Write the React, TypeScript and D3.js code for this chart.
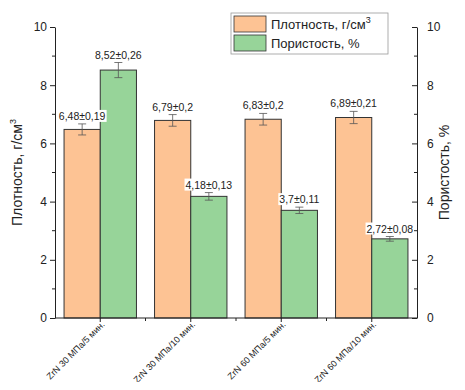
import React, { useEffect, useRef } from "react";
import * as d3 from "d3";

const categories = [
  "ZrN 30 МПа/5 мин.",
  "ZrN 30 МПа/10 мин.",
  "ZrN 60 МПа/5 мин.",
  "ZrN 60 МПа/10 мин.",
];
const density = [6.48, 6.79, 6.83, 6.89];
const densityErr = [0.19, 0.2, 0.2, 0.21];
const densityLabels = ["6,48±0,19", "6,79±0,2", "6,83±0,2", "6,89±0,21"];
const porosity = [8.52, 4.18, 3.7, 2.72];
const porosityErr = [0.26, 0.13, 0.11, 0.08];
const porosityLabels = ["8,52±0,26", "4,18±0,13", "3,7±0,11", "2,72±0,08"];
const yTicks = [0, 2, 4, 6, 8, 10];

const W = 465;
const H = 390;
const FONT = "Liberation Sans, Arial, sans-serif";
const ORANGE = "#fdc394";
const GREEN = "#97d499";

export default function App() {
  const ref = useRef<SVGSVGElement>(null);

  useEffect(() => {
    const svg = d3.select(ref.current);
    svg.selectAll("*").remove();

    const left = 55, right = 417, top = 27, bottom = 318;

    const x = d3.scaleBand().domain(categories).range([left, right]).paddingInner(0.2).paddingOuter(0.1);
    const y = d3.scaleLinear().domain([0, 10]).range([bottom, top]);
    const y2 = d3.scaleLinear().domain([0, 10]).range([bottom, top]);
    const half = x.bandwidth() / 2;

    const series = [
      { vals: density, errs: densityErr, labels: densityLabels, color: ORANGE, off: 0, sc: y },
      { vals: porosity, errs: porosityErr, labels: porosityLabels, color: GREEN, off: half, sc: y2 },
    ];

    const barsG = svg.append("g");
    const labelsG = svg.append("g");

    series.forEach((s) => {
      barsG.append("g").selectAll("rect")
        .data(s.vals)
        .enter()
        .append("rect")
        .attr("x", (_, i) => x(categories[i])! + s.off)
        .attr("y", (d) => s.sc(d))
        .attr("width", half)
        .attr("height", (d) => bottom - s.sc(d))
        .attr("fill", s.color)
        .attr("stroke", "#333")
        .attr("stroke-width", 1);
    });

    series.forEach((s) => {
      s.vals.forEach((v, i) => {
        const cx = x(categories[i])! + s.off + half / 2;
        const y0 = s.sc(v - s.errs[i]);
        const y1 = s.sc(v + s.errs[i]);
        const eg = barsG.append("g").attr("stroke", "#555").attr("stroke-width", 0.8);
        eg.append("line").attr("x1", cx).attr("x2", cx).attr("y1", y0).attr("y2", y1);
        eg.append("line").attr("x1", cx - 4).attr("x2", cx + 4).attr("y1", y0).attr("y2", y0);
        eg.append("line").attr("x1", cx - 4).attr("x2", cx + 4).attr("y1", y1).attr("y2", y1);

        const t = labelsG.append("text")
          .attr("x", cx)
          .attr("y", y1 - 4)
          .attr("text-anchor", "middle")
          .attr("font-family", FONT)
          .attr("font-size", 10.5)
          .attr("fill", "#222")
          .text(s.labels[i]);
        const bb = (t.node() as SVGTextElement).getBBox();
        labelsG.insert("rect", () => t.node())
          .attr("x", bb.x - 1)
          .attr("y", bb.y)
          .attr("width", bb.width + 2)
          .attr("height", bb.height)
          .attr("fill", "white");
      });
    });

    // left axis
    const la = svg.append("g").attr("transform", `translate(${left},0)`);
    la.call(d3.axisLeft(y).tickValues(yTicks).tickSize(5).tickSizeOuter(0));
    la.selectAll("line, path").attr("stroke", "#222");
    la.selectAll("text").attr("font-family", FONT).attr("font-size", 12).attr("fill", "#222");
    la.selectAll(".minor")
      .data([1, 3, 5, 7, 9])
      .enter()
      .append("line")
      .attr("x1", -3).attr("x2", 0)
      .attr("y1", (d) => y(d)).attr("y2", (d) => y(d))
      .attr("stroke", "#222");

    // right axis (ticks inward)
    const ra = svg.append("g").attr("transform", `translate(${right},0)`);
    ra.call(d3.axisRight(y2).tickValues(yTicks).tickSize(-5).tickSizeOuter(0).tickPadding(10));
    ra.selectAll("line, path").attr("stroke", "#222");
    ra.selectAll("text").attr("font-family", FONT).attr("font-size", 12).attr("fill", "#222");
    ra.selectAll(".minor")
      .data([1, 3, 5, 7, 9])
      .enter()
      .append("line")
      .attr("x1", -3).attr("x2", 0)
      .attr("y1", (d) => y2(d)).attr("y2", (d) => y2(d))
      .attr("stroke", "#222");

    // bottom axis
    const ba = svg.append("g").attr("transform", `translate(0,${bottom})`);
    ba.call(d3.axisBottom(x).tickSize(4).tickSizeOuter(0));
    ba.select(".domain").attr("d", `M${left},0H${right}`).attr("stroke", "#222");
    ba.selectAll("line").attr("stroke", "#222");
    ba.selectAll("text")
      .attr("font-family", FONT)
      .attr("font-size", 9)
      .attr("fill", "#222")
      .attr("text-anchor", "end")
      .attr("x", 0)
      .attr("y", 0)
      .attr("dy", null)
      .attr("transform", "translate(5,7) rotate(-45)");
    const step = x.step();
    ba.selectAll(".minorx")
      .data(categories.slice(1))
      .enter()
      .append("line")
      .attr("x1", (d) => x(d)! - (step - x.bandwidth()) / 2)
      .attr("x2", (d) => x(d)! - (step - x.bandwidth()) / 2)
      .attr("y1", 0).attr("y2", 3)
      .attr("stroke", "#222");

    // axis titles
    const t1 = svg.append("text")
      .attr("transform", `translate(22,${(top + bottom) / 2}) rotate(-90)`)
      .attr("text-anchor", "middle")
      .attr("font-family", FONT)
      .attr("font-size", 14)
      .attr("fill", "#222");
    t1.append("tspan").text("Плотность, г/см");
    t1.append("tspan").attr("font-size", 9).attr("dy", -6).text("3");

    svg.append("text")
      .attr("transform", `translate(449,${(top + bottom) / 2}) rotate(-90)`)
      .attr("text-anchor", "middle")
      .attr("font-family", FONT)
      .attr("font-size", 14)
      .attr("fill", "#222")
      .text("Пористость, %");

    // legend
    const lg = svg.append("g").attr("transform", "translate(231,13)");
    lg.append("rect").attr("width", 157).attr("height", 41).attr("fill", "white").attr("stroke", "#999").attr("stroke-width", 0.8);
    const items = [
      { color: ORANGE, label: "Плотность, г/см", sup: "3" },
      { color: GREEN, label: "Пористость, %", sup: "" },
    ];
    items.forEach((it, i) => {
      lg.append("rect")
        .attr("x", 3).attr("y", 3 + i * 19)
        .attr("width", 32).attr("height", 16)
        .attr("fill", it.color).attr("stroke", "#333").attr("stroke-width", 0.8);
      const tx = lg.append("text")
        .attr("x", 40).attr("y", 16 + i * 19)
        .attr("font-family", FONT).attr("font-size", 13).attr("fill", "#222");
      tx.append("tspan").text(it.label);
      if (it.sup) tx.append("tspan").attr("font-size", 9).attr("dy", -6).text(it.sup);
    });
  }, []);

  return <svg ref={ref} width={W} height={H} style={{ display: "block", margin: "-8px", background: "white" }} />;
}
